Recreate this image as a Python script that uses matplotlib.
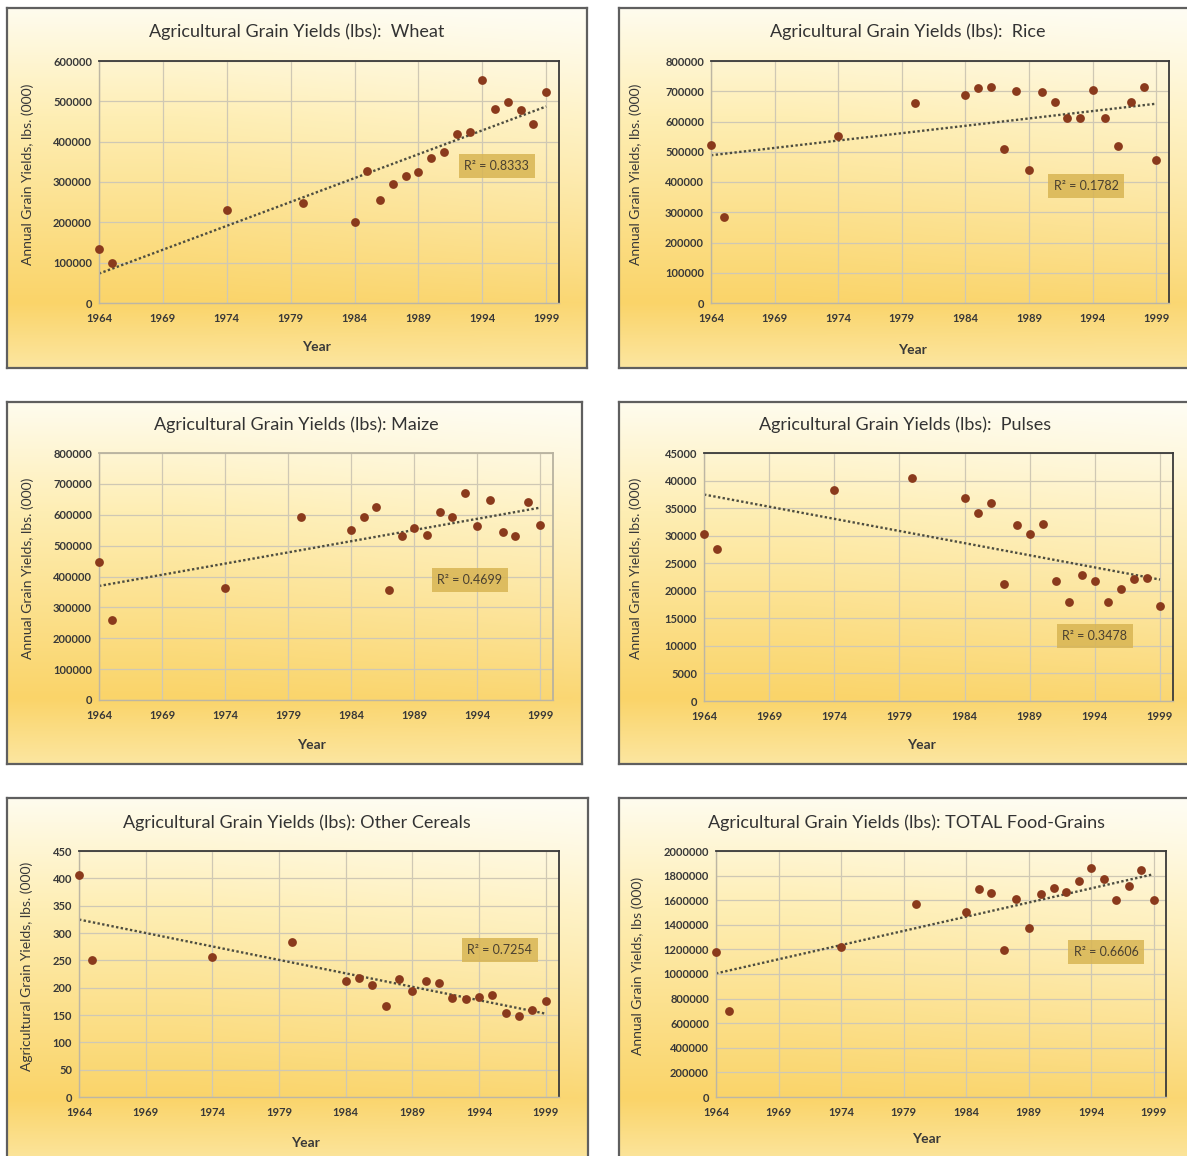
import numpy as np
import matplotlib
matplotlib.use("Agg")
import matplotlib.pyplot as plt

# ---------------------------------------------------------------------------
# Data: annual grain yields (lbs, thousands) by year
# ---------------------------------------------------------------------------
years = [1964, 1965, 1974, 1980, 1984, 1985, 1986, 1987, 1988, 1989,
         1990, 1991, 1992, 1993, 1994, 1995, 1996, 1997, 1998, 1999]

wheat = [135000, 98000, 231000, 247000, 201000, 327000, 255000, 295000, 316000, 324000,
         359000, 374000, 420000, 425000, 553000, 482000, 498000, 479000, 444000, 524000]

rice = [522000, 284000, 551000, 660000, 689000, 711000, 714000, 508000, 700000, 440000,
        696000, 664000, 610000, 610000, 703000, 610000, 519000, 665000, 714000, 472000]

maize = [447000, 259000, 364000, 594000, 549000, 594000, 626000, 356000, 531000, 556000,
         535000, 608000, 592000, 670000, 563000, 647000, 545000, 531000, 640000, 566000]

pulses = [30300, 27600, 38200, 40400, 36800, 34200, 36000, 21300, 32000, 30300,
          32200, 21700, 18000, 22800, 21700, 18000, 20300, 22100, 22300, 17200]

other_cereals = [406, 250, 256, 283, 212, 218, 204, 166, 216, 194,
                 212, 208, 182, 179, 183, 187, 154, 149, 160, 176]

total_grains = [1180000, 697000, 1216000, 1571000, 1503000, 1690000, 1655000, 1197000, 1606000, 1376000,
                1650000, 1696000, 1663000, 1758000, 1859000, 1772000, 1604000, 1715000, 1842000, 1604000]

titles = ["Agricultural Grain Yields (lbs):  Wheat",
          "Agricultural Grain Yields (lbs):  Rice",
          "Agricultural Grain Yields (lbs): Maize",
          "Agricultural Grain Yields (lbs):  Pulses",
          "Agricultural Grain Yields (lbs): Other Cereals",
          "Agricultural Grain Yields (lbs): TOTAL Food-Grains"]

y_labels = ["Annual Grain Yields, lbs. (000)",
            "Annual Grain Yields, lbs. (000)",
            "Annual Grain Yields, lbs. (000)",
            "Annual Grain Yields, lbs. (000)",
            "Agricultural Grain Yields, lbs. (000)",
            "Annual Grain Yields, lbs (000)"]

r_squared = ["0.8333", "0.1782", "0.4699", "0.3478", "0.7254", "0.6606"]

y_max = [600000, 800000, 800000, 45000, 450, 2000000]
y_step = [100000, 100000, 100000, 5000, 50, 200000]
x_ticks = [1964, 1969, 1974, 1979, 1984, 1989, 1994, 1999]

series = [wheat, rice, maize, pulses, other_cereals, total_grains]

# ---------------------------------------------------------------------------
# Layout (pixel positions on a 1187 x 1156 canvas)
# ---------------------------------------------------------------------------
W, H = 1187, 1156
DPI = 100
fig = plt.figure(figsize=(W / DPI, H / DPI), dpi=DPI)
fig.patch.set_facecolor("white")

# outer chart boxes: (left, top, right, bottom)
boxes = [(7, 8, 587, 368), (619, 8, 1200, 368),
         (7, 402, 582, 764), (619, 402, 1200, 764),
         (7, 798, 588, 1165), (619, 798, 1200, 1165)]
# plot areas: (left, top, right, bottom)
plots = [(99, 61, 559, 303), (711, 61, 1169, 303),
         (99, 453, 553, 700), (704, 453, 1173, 701),
         (79, 851, 559, 1097), (716, 851, 1166, 1097)]
title_pos = [(297, 32), (908, 32), (296, 425), (905, 425), (297, 823), (906, 823)]
ylabel_pos = [(28, 174), (636, 174), (28, 568), (636, 568), (27, 966), (638, 966)]
xlabel_pos = [(316, 347), (912, 350), (311, 745), (921, 745), (305, 1143), (926, 1139)]
r2_pos = [(0.865, 0.566), (0.819, 0.483), (0.817, 0.486),
          (0.833, 0.262), (0.877, 0.598), (0.867, 0.589)]
dark_frame = [True, True, False, True, True, True]

FONT = "Lato"
TEXT_COLOR = "#383838"
MARKER_COLOR = "#8a3a1c"
GRID_COLOR = "#cfc8b4"


def fx(px):
    return px / W


def fy(py):
    return 1 - py / H


def gradient_image(h=200, w=200):
    """Light cream at the top fading to gold near the bottom."""
    t = np.linspace(0, 1, h)[:, None]
    s = np.linspace(0, 1, w)[None, :]
    stops = np.array([0.0, 0.3, 0.82, 1.0])
    cols = np.array([[255, 252, 238],
                     [254, 238, 180],
                     [250, 212, 105],
                     [252, 230, 160]], dtype=float) / 255
    img = np.zeros((h, w, 3))
    for c in range(3):
        img[:, :, c] = np.interp(t[:, 0], stops, cols[:, c])[:, None]
    # slightly lighter towards the upper right
    light = np.clip((s - 0.3) * (1 - t) * 0.9, 0, 1)[:, :, None]
    img = img + (1 - img) * light * 0.6
    return np.clip(img, 0, 1)


grad = gradient_image()

for i in range(6):
    bl, bt, br, bb = boxes[i]
    bg = fig.add_axes([fx(bl), fy(bb), fx(br - bl), (bb - bt) / H], zorder=0)
    bg.imshow(grad, aspect="auto", extent=(0, 1, 0, 1), interpolation="bilinear")
    bg.set_xlim(0, 1)
    bg.set_ylim(0, 1)
    bg.set_xticks([])
    bg.set_yticks([])
    for sp in bg.spines.values():
        sp.set_color("#5f5f5f")
        sp.set_linewidth(1.6)

    pl, pt, pr, pb = plots[i]
    ax = fig.add_axes([fx(pl), fy(pb), fx(pr - pl), (pb - pt) / H], zorder=1)
    ax.patch.set_alpha(0)

    x = np.array(years, dtype=float)
    y = np.array(series[i], dtype=float)

    ax.set_xlim(1964, 2000)
    ax.set_ylim(0, y_max[i])
    ax.set_xticks(x_ticks)
    ax.set_yticks(np.arange(0, y_max[i] + y_step[i] / 2, y_step[i]))
    ax.set_yticklabels([f"{int(v)}" for v in ax.get_yticks()])
    ax.grid(True, color=GRID_COLOR, linewidth=0.9)
    ax.set_axisbelow(True)
    ax.tick_params(length=0, labelsize=8, labelcolor=TEXT_COLOR, pad=5)
    for lab in ax.get_xticklabels() + ax.get_yticklabels():
        lab.set_fontfamily(FONT)
        lab.set_fontweight("bold")
    ax.tick_params(axis="x", pad=7)

    frame_dark = "#3a3a3a" if dark_frame[i] else "#b8b2a0"
    for side in ("top", "right"):
        ax.spines[side].set_color(frame_dark)
        ax.spines[side].set_linewidth(1.3)
    for side in ("left", "bottom"):
        ax.spines[side].set_color("#bdb6a3")
        ax.spines[side].set_linewidth(1.0)

    # linear trendline (least squares) across the observed years
    slope, intercept = np.polyfit(x, y, 1)
    xt = np.array([x.min(), x.max()])
    ax.plot(xt, slope * xt + intercept, linestyle=(0, (1, 1)), color="#4d4d40",
            linewidth=1.7, zorder=2)

    ax.scatter(x, y, s=40, color=MARKER_COLOR, zorder=3, clip_on=False, linewidths=0)

    ax.text(r2_pos[i][0], r2_pos[i][1], f"R\u00b2 = {r_squared[i]}",
            transform=ax.transAxes, ha="center", va="center", fontsize=9,
            family=FONT, color="#4a4030", zorder=4,
            bbox=dict(boxstyle="square,pad=0.45", facecolor="#d8b553", alpha=0.85,
                      edgecolor="none"))

    fig.text(fx(title_pos[i][0]), fy(title_pos[i][1]), titles[i], ha="center",
             va="center", fontsize=13, family=FONT, color="#333333")
    fig.text(fx(ylabel_pos[i][0]), fy(ylabel_pos[i][1]), y_labels[i], ha="center",
             va="center", rotation=90, fontsize=10, family=FONT, color=TEXT_COLOR)
    fig.text(fx(xlabel_pos[i][0]), fy(xlabel_pos[i][1]), "Year", ha="center",
             va="center", fontsize=10, family=FONT, fontweight="bold", color=TEXT_COLOR)

fig.savefig("out.png", dpi=DPI, facecolor="white")
